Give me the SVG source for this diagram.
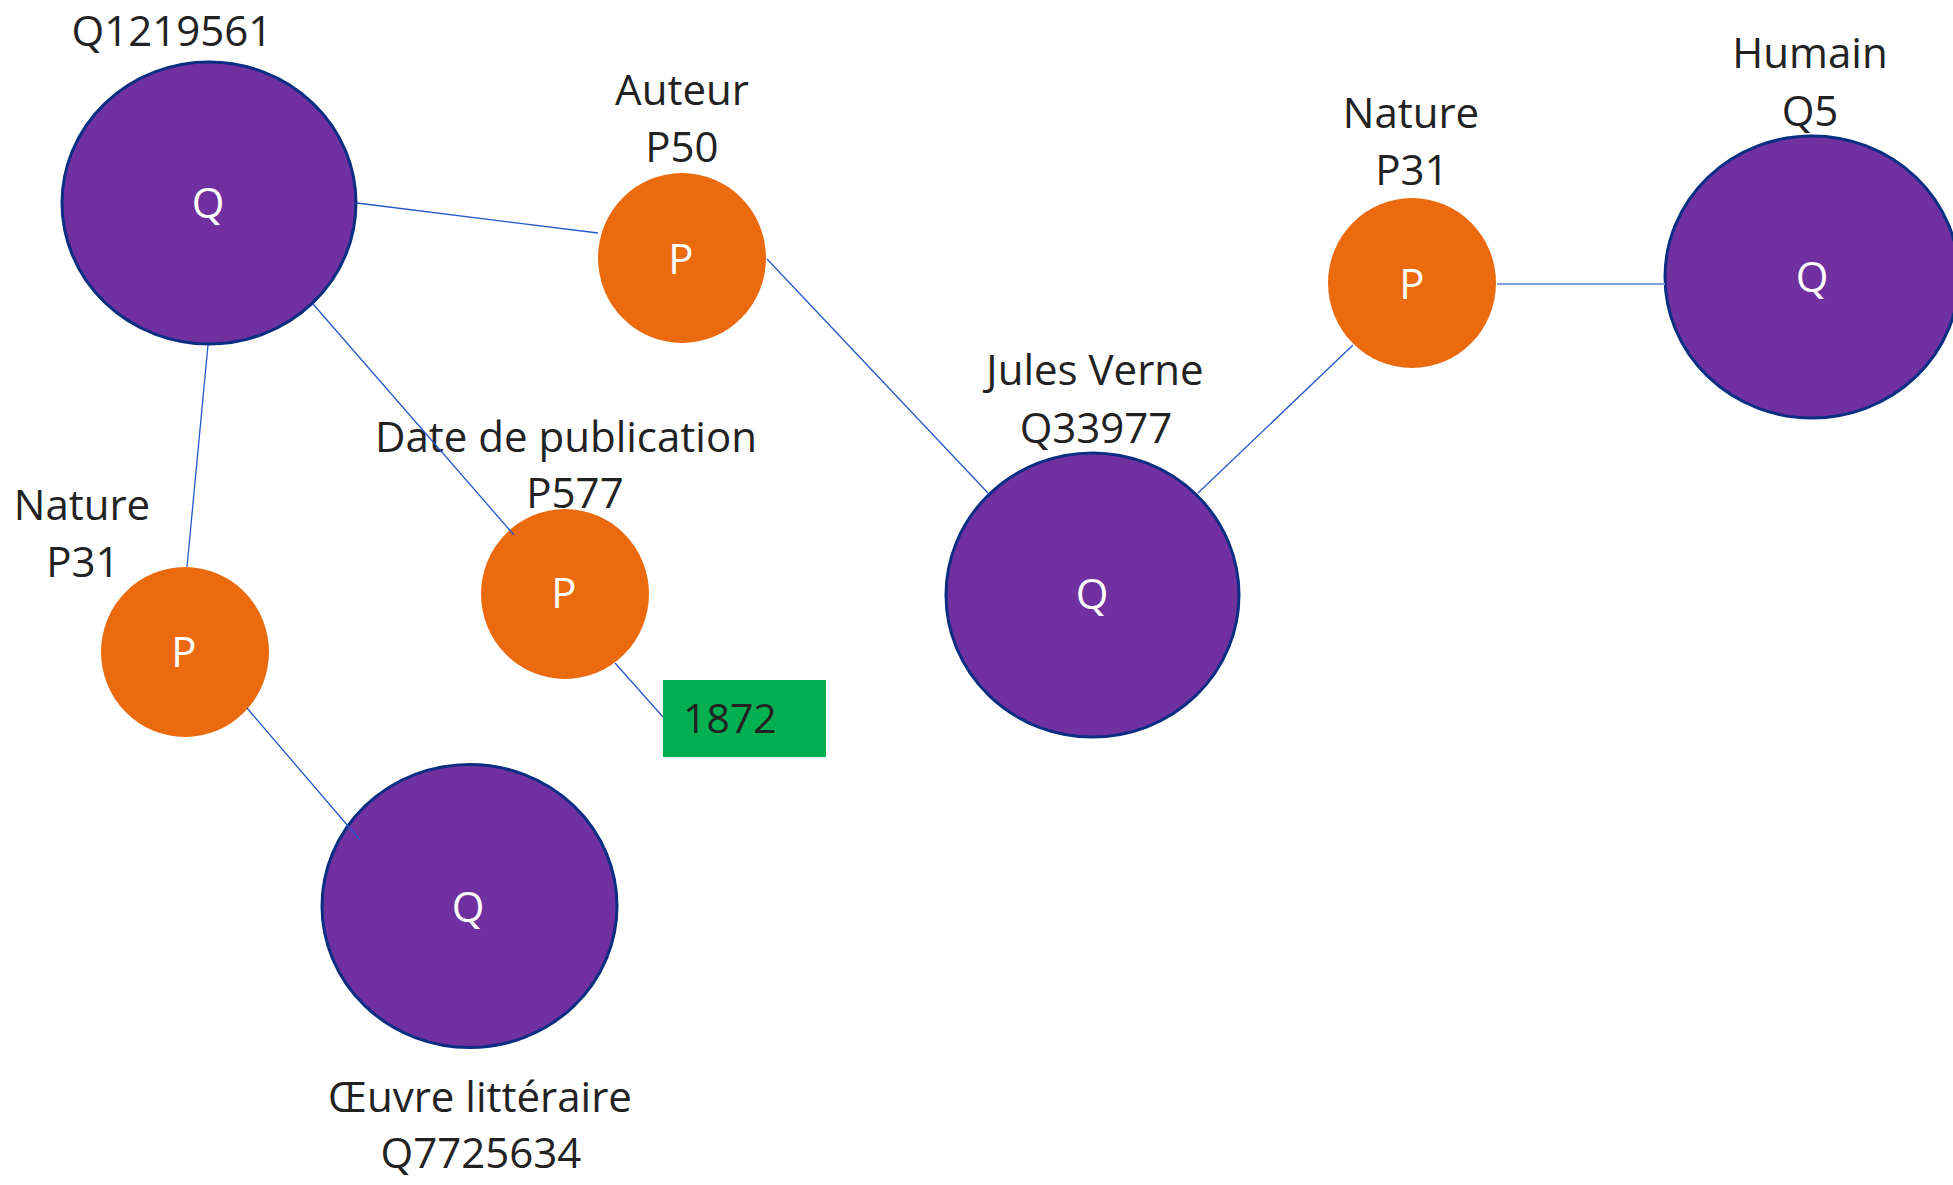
<svg xmlns="http://www.w3.org/2000/svg" width="1953" height="1185" viewBox="0 0 1953 1185">
<style>
.q{fill:#7030A0;stroke:#0B2E83;stroke-width:3}
.p{fill:#EA6A0D}
.lit{fill:#00B050}
.in{font-family:"Open Sans","Liberation Sans",sans-serif;font-size:42px;fill:#FFFFFF;text-anchor:middle}
.lb{font-family:"Open Sans","Liberation Sans",sans-serif;font-size:42px;fill:#222222;text-anchor:middle}
.val{font-family:"Open Sans","Liberation Sans",sans-serif;font-size:41px;fill:#222222}
.c{stroke:#2457C8;stroke-width:1.3;fill:none}
.c2{stroke:#7FA0D8;stroke-width:2.2;fill:none}
</style>
<rect width="1953" height="1185" fill="#FFFFFF"/>
<g id="node-q1219561">
<ellipse class="q" cx="209" cy="203" rx="147" ry="141"/>
<text class="in" x="208" y="218">Q</text>
<text class="lb" x="172" y="46">Q1219561</text>
</g>
<g id="node-auteur">
<ellipse class="p" cx="682" cy="258" rx="84" ry="85"/>
<text class="in" x="681" y="274">P</text>
<text class="lb" x="682" y="105">Auteur</text>
<text class="lb" x="682" y="162">P50</text>
</g>
<g id="node-nature-right">
<ellipse class="p" cx="1412" cy="283" rx="84" ry="85"/>
<text class="in" x="1412" y="299">P</text>
<text class="lb" x="1411" y="128">Nature</text>
<text class="lb" x="1412" y="185">P31</text>
</g>
<g id="node-humain">
<ellipse class="q" cx="1812" cy="277" rx="147" ry="141"/>
<text class="in" x="1812" y="292">Q</text>
<text class="lb" x="1810" y="68">Humain</text>
<text class="lb" x="1810" y="126">Q5</text>
</g>
<g id="node-jules-verne">
<ellipse class="q" cx="1092.5" cy="595" rx="146.5" ry="142"/>
<text class="in" x="1092" y="609">Q</text>
<text class="lb" x="1095" y="385">Jules Verne</text>
<text class="lb" x="1096" y="443">Q33977</text>
</g>
<g id="node-date">
<ellipse class="p" cx="565" cy="594" rx="84" ry="85"/>
<text class="in" x="564" y="608">P</text>
<text class="lb" x="566" y="452">Date de publication</text>
<text class="lb" x="575" y="508">P577</text>
</g>
<g id="node-nature-left">
<ellipse class="p" cx="185" cy="652" rx="84" ry="85"/>
<text class="in" x="184" y="667">P</text>
<text class="lb" x="82" y="520">Nature</text>
<text class="lb" x="83" y="577">P31</text>
</g>
<g id="node-oeuvre">
<ellipse class="q" cx="469.5" cy="906" rx="147.5" ry="141.5"/>
<text class="in" x="468" y="922">Q</text>
<text class="lb" x="480" y="1112">Œuvre littéraire</text>
<text class="lb" x="481" y="1168">Q7725634</text>
</g>
<g id="node-1872">
<rect class="lit" x="663" y="680" width="163" height="77"/>
<text class="val" x="683" y="733">1872</text>
</g>
<g id="connectors">
<line class="c" x1="357" y1="203" x2="598" y2="233"/>
<line class="c" x1="313" y1="304" x2="514" y2="535"/>
<line class="c" x1="208" y1="345" x2="187" y2="567"/>
<line class="c" x1="247" y1="708" x2="360" y2="840"/>
<line class="c" x1="615" y1="663" x2="663" y2="717"/>
<line class="c" x1="767" y1="259" x2="988" y2="493"/>
<line class="c" x1="1198" y1="493" x2="1353" y2="345"/>
<line class="c2" x1="1497" y1="284" x2="1665" y2="284"/>
</g>
</svg>
